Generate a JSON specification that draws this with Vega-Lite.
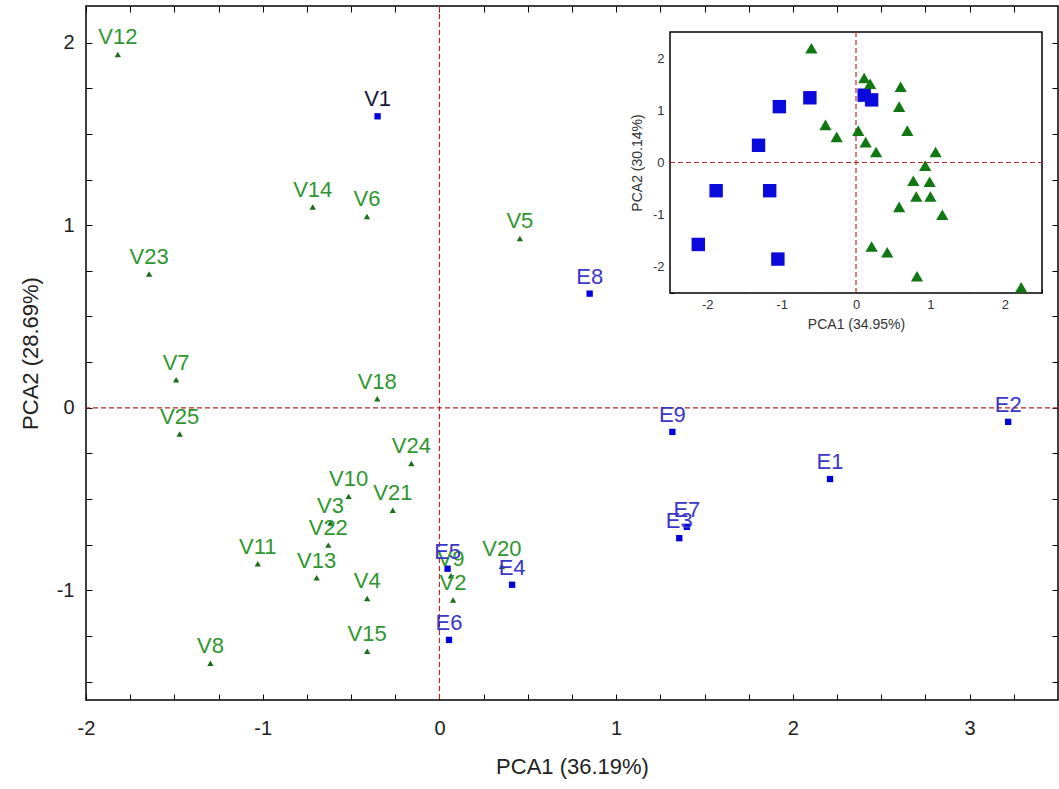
{
  "$schema": "https://vega.github.io/schema/vega-lite/v6.json",
  "width": 972,
  "height": 694,
  "autosize": "none",
  "padding": {"left": 86, "top": 6, "right": 1, "bottom": 89},
  "background": "white",
  "config": {
    "font": "Liberation Sans",
    "view": {"stroke": "black", "strokeWidth": 1.5},
    "axis": {"grid": false, "domain": false, "tickColor": "black", "tickWidth": 1}
  },
  "datasets": {
    "main": [
      {"id": "V12", "x": -1.82, "y": 1.935, "grp": "V"},
      {"id": "V1", "x": -0.35, "y": 1.596, "grp": "V1"},
      {"id": "V14", "x": -0.717, "y": 1.099, "grp": "V"},
      {"id": "V6", "x": -0.41, "y": 1.048, "grp": "V"},
      {"id": "V23", "x": -1.643, "y": 0.733, "grp": "V"},
      {"id": "V5", "x": 0.455, "y": 0.927, "grp": "V"},
      {"id": "E8", "x": 0.85, "y": 0.625, "grp": "E"},
      {"id": "V7", "x": -1.49, "y": 0.154, "grp": "V"},
      {"id": "V18", "x": -0.352, "y": 0.049, "grp": "V"},
      {"id": "V25", "x": -1.47, "y": -0.143, "grp": "V"},
      {"id": "E9", "x": 1.318, "y": -0.132, "grp": "E"},
      {"id": "E2", "x": 3.218, "y": -0.077, "grp": "E"},
      {"id": "E1", "x": 2.21, "y": -0.39, "grp": "E"},
      {"id": "E7", "x": 1.4, "y": -0.652, "grp": "E"},
      {"id": "E3", "x": 1.357, "y": -0.714, "grp": "E"},
      {"id": "V24", "x": -0.159, "y": -0.305, "grp": "V"},
      {"id": "V10", "x": -0.514, "y": -0.485, "grp": "V"},
      {"id": "V21", "x": -0.264, "y": -0.561, "grp": "V"},
      {"id": "V3", "x": -0.617, "y": -0.631, "grp": "V"},
      {"id": "V22", "x": -0.629, "y": -0.752, "grp": "V"},
      {"id": "V11", "x": -1.028, "y": -0.854, "grp": "V"},
      {"id": "V13", "x": -0.695, "y": -0.931, "grp": "V"},
      {"id": "V4", "x": -0.409, "y": -1.044, "grp": "V"},
      {"id": "V15", "x": -0.409, "y": -1.333, "grp": "V"},
      {"id": "V8", "x": -1.296, "y": -1.399, "grp": "V"},
      {"id": "V20", "x": 0.353, "y": -0.868, "grp": "V"},
      {"id": "V9", "x": 0.065, "y": -0.92, "grp": "V"},
      {"id": "V2", "x": 0.077, "y": -1.052, "grp": "V"},
      {"id": "E5", "x": 0.046, "y": -0.881, "grp": "E"},
      {"id": "E6", "x": 0.054, "y": -1.271, "grp": "E"},
      {"id": "E4", "x": 0.411, "y": -0.969, "grp": "E"}
    ],
    "inset": [
      {"x": -2.12, "y": -1.57, "grp": "E"},
      {"x": -1.88, "y": -0.54, "grp": "E"},
      {"x": -1.05, "y": -1.85, "grp": "E"},
      {"x": -1.16, "y": -0.54, "grp": "E"},
      {"x": -1.31, "y": 0.33, "grp": "E"},
      {"x": -1.03, "y": 1.07, "grp": "E"},
      {"x": -0.62, "y": 1.24, "grp": "E"},
      {"x": 0.11, "y": 1.29, "grp": "E"},
      {"x": 0.21, "y": 1.2, "grp": "E"},
      {"x": -0.6, "y": 2.19, "grp": "V"},
      {"x": 0.11, "y": 1.62, "grp": "V"},
      {"x": 0.19, "y": 1.51, "grp": "V"},
      {"x": 0.6, "y": 1.45, "grp": "V"},
      {"x": 0.58, "y": 1.07, "grp": "V"},
      {"x": -0.41, "y": 0.72, "grp": "V"},
      {"x": -0.26, "y": 0.49, "grp": "V"},
      {"x": 0.03, "y": 0.61, "grp": "V"},
      {"x": 0.13, "y": 0.39, "grp": "V"},
      {"x": 0.27, "y": 0.2, "grp": "V"},
      {"x": 0.69, "y": 0.61, "grp": "V"},
      {"x": 1.07, "y": 0.2, "grp": "V"},
      {"x": 0.93, "y": -0.06, "grp": "V"},
      {"x": 0.77, "y": -0.35, "grp": "V"},
      {"x": 0.99, "y": -0.37, "grp": "V"},
      {"x": 0.81, "y": -0.65, "grp": "V"},
      {"x": 1.0, "y": -0.65, "grp": "V"},
      {"x": 0.58, "y": -0.85, "grp": "V"},
      {"x": 1.16, "y": -1.0, "grp": "V"},
      {"x": 0.21, "y": -1.61, "grp": "V"},
      {"x": 0.42, "y": -1.72, "grp": "V"},
      {"x": 0.82, "y": -2.18, "grp": "V"},
      {"x": 2.22, "y": -2.39, "grp": "V"}
    ]
  },
  "layer": [
    {
      "layer": [
        {
          "data": {"values": [{"v": 0}]},
          "mark": {"type": "rule", "color": "#b8282a", "strokeDash": [5, 3], "strokeWidth": 1.2},
          "encoding": {
            "x": {"field": "v", "type": "quantitative", "scale": {"domain": [-2, 3.5], "nice": false, "zero": false}, "axis": null}
          }
        },
        {
          "data": {"values": [{"v": 0}]},
          "mark": {"type": "rule", "color": "#b8282a", "strokeDash": [5, 3], "strokeWidth": 1.2},
          "encoding": {
            "y": {"field": "v", "type": "quantitative", "scale": {"domain": [-1.6, 2.2], "nice": false, "zero": false}, "axis": null}
          }
        },
        {
          "data": {"name": "main"},
          "mark": {"type": "point", "filled": true, "opacity": 1},
          "encoding": {
            "x": {"field": "x", "type": "quantitative", "scale": {"domain": [-2, 3.5], "nice": false, "zero": false},
              "axis": {"orient": "bottom", "title": "PCA1 (36.19%)", "values": [-2, -1.75, -1.5, -1.25, -1, -0.75, -0.5, -0.25, 0, 0.25, 0.5, 0.75, 1, 1.25, 1.5, 1.75, 2, 2.25, 2.5, 2.75, 3, 3.25],
                "labelExpr": "datum.value % 1 == 0 ? '' + datum.value : ''", "tickSize": -6, "labelPadding": 24, "labelFontSize": 20, "labelColor": "#222", "titleFontSize": 22, "titleFontWeight": "normal", "titleColor": "#222", "titlePadding": 18, "labelFlush": false, "labelOverlap": false}},
            "y": {"field": "y", "type": "quantitative", "scale": {"domain": [-1.6, 2.2], "nice": false, "zero": false},
              "axis": {"orient": "left", "title": "PCA2 (28.69%)", "values": [-1.5, -1.25, -1, -0.75, -0.5, -0.25, 0, 0.25, 0.5, 0.75, 1, 1.25, 1.5, 1.75, 2],
                "labelExpr": "datum.value % 1 == 0 ? '' + datum.value : ''", "tickSize": -6, "labelPadding": 18, "labelFontSize": 20, "labelColor": "#222", "titleFontSize": 22, "titleFontWeight": "normal", "titleColor": "#222", "titlePadding": 14, "labelFlush": false, "labelOverlap": false}},
            "shape": {"field": "grp", "type": "nominal", "scale": {"domain": ["V", "E", "V1"], "range": ["triangle-up", "square", "square"]}, "legend": null},
            "color": {"field": "grp", "type": "nominal", "scale": {"domain": ["V", "E", "V1"], "range": ["#1a6e1a", "#0000dd", "#0000dd"]}, "legend": null},
            "size": {"value": 40}
          }
        },
        {
          "data": {"name": "main"},
          "mark": {"type": "text", "dy": -17, "fontSize": 22, "align": "center", "baseline": "middle"},
          "encoding": {
            "x": {"field": "x", "type": "quantitative", "scale": {"domain": [-2, 3.5], "nice": false, "zero": false}, "axis": null},
            "y": {"field": "y", "type": "quantitative", "scale": {"domain": [-1.6, 2.2], "nice": false, "zero": false}, "axis": null},
            "text": {"field": "id"},
            "color": {"field": "grp", "type": "nominal", "scale": {"domain": ["V", "E", "V1"], "range": ["#2f962f", "#3a36c8", "#16163e"]}, "legend": null}
          }
        },
        {
          "data": {"name": "main"},
          "mark": {"type": "point", "opacity": 0},
          "encoding": {
            "x": {"field": "x", "type": "quantitative", "scale": {"domain": [-2, 3.5], "nice": false, "zero": false},
              "axis": {"orient": "top", "title": null, "labels": false, "values": [-2, -1.75, -1.5, -1.25, -1, -0.75, -0.5, -0.25, 0, 0.25, 0.5, 0.75, 1, 1.25, 1.5, 1.75, 2, 2.25, 2.5, 2.75, 3, 3.25], "tickSize": -6}},
            "y": {"field": "y", "type": "quantitative", "scale": {"domain": [-1.6, 2.2], "nice": false, "zero": false},
              "axis": {"orient": "right", "title": null, "labels": false, "values": [-1.5, -1.25, -1, -0.75, -0.5, -0.25, 0, 0.25, 0.5, 0.75, 1, 1.25, 1.5, 1.75, 2], "tickSize": -6}}
          }
        }
      ],
      "resolve": {"axis": {"x": "independent", "y": "independent"}, "scale": {"color": "independent"}}
    },
    {
      "layer": [
        {
          "data": {"values": [{"x": -2.5, "x2": 2.5, "y": -2.5, "y2": 2.5}]},
          "mark": {"type": "rect", "fill": "white", "stroke": "black", "strokeWidth": 1.5},
          "encoding": {
            "x": {"field": "x", "type": "quantitative", "scale": {"domain": [-2.5, 2.5], "range": [584, 956], "nice": false, "zero": false},
              "axis": {"orient": "bottom", "offset": -407, "title": "PCA1 (34.95%)", "values": [-2.5, -2, -1.5, -1, -0.5, 0, 0.5, 1, 1.5, 2, 2.5],
                "labelExpr": "datum.value % 1 == 0 ? '' + datum.value : ''", "tickSize": -4, "labelPadding": 9, "labelFontSize": 13, "labelColor": "#333", "titleFontSize": 14, "titleFontWeight": "normal", "titleColor": "#333", "titlePadding": 6, "labelFlush": false, "labelOverlap": false}},
            "x2": {"field": "x2"},
            "y": {"field": "y", "type": "quantitative", "scale": {"domain": [-2.5, 2.5], "range": [287, 26], "nice": false, "zero": false},
              "axis": {"orient": "left", "offset": -584, "title": "PCA2 (30.14%)", "values": [-2.5, -2, -1.5, -1, -0.5, 0, 0.5, 1, 1.5, 2, 2.5],
                "labelExpr": "datum.value % 1 == 0 ? '' + datum.value : ''", "tickSize": -4, "labelPadding": 10, "labelFontSize": 13, "labelColor": "#333", "titleFontSize": 14, "titleFontWeight": "normal", "titleColor": "#333", "titlePadding": 8, "labelFlush": false, "labelOverlap": false}},
            "y2": {"field": "y2"}
          }
        },
        {
          "data": {"values": [{"v": 0, "a": -2.5, "b": 2.5}]},
          "mark": {"type": "rule", "color": "#b8282a", "strokeDash": [5, 3], "strokeWidth": 1.2},
          "encoding": {
            "x": {"field": "v", "type": "quantitative"},
            "y": {"field": "a", "type": "quantitative"},
            "y2": {"field": "b"}
          }
        },
        {
          "data": {"values": [{"v": 0, "a": -2.5, "b": 2.5}]},
          "mark": {"type": "rule", "color": "#b8282a", "strokeDash": [5, 3], "strokeWidth": 1.2},
          "encoding": {
            "y": {"field": "v", "type": "quantitative"},
            "x": {"field": "a", "type": "quantitative"},
            "x2": {"field": "b"}
          }
        },
        {
          "data": {"name": "inset"},
          "mark": {"type": "point", "filled": true, "opacity": 1},
          "encoding": {
            "x": {"field": "x", "type": "quantitative"},
            "y": {"field": "y", "type": "quantitative"},
            "shape": {"field": "grp", "type": "nominal", "scale": {"domain": ["V", "E"], "range": ["triangle-up", "square"]}, "legend": null},
            "color": {"field": "grp", "type": "nominal", "scale": {"domain": ["V", "E"], "range": ["#117711", "#0a0adc"]}, "legend": null},
            "size": {"field": "grp", "type": "nominal", "scale": {"domain": ["V", "E"], "range": [150, 180]}, "legend": null}
          }
        }
      ]
    }
  ],
  "resolve": {"scale": {"x": "independent", "y": "independent", "shape": "independent", "color": "independent", "size": "independent"}, "axis": {"x": "independent", "y": "independent"}}
}
